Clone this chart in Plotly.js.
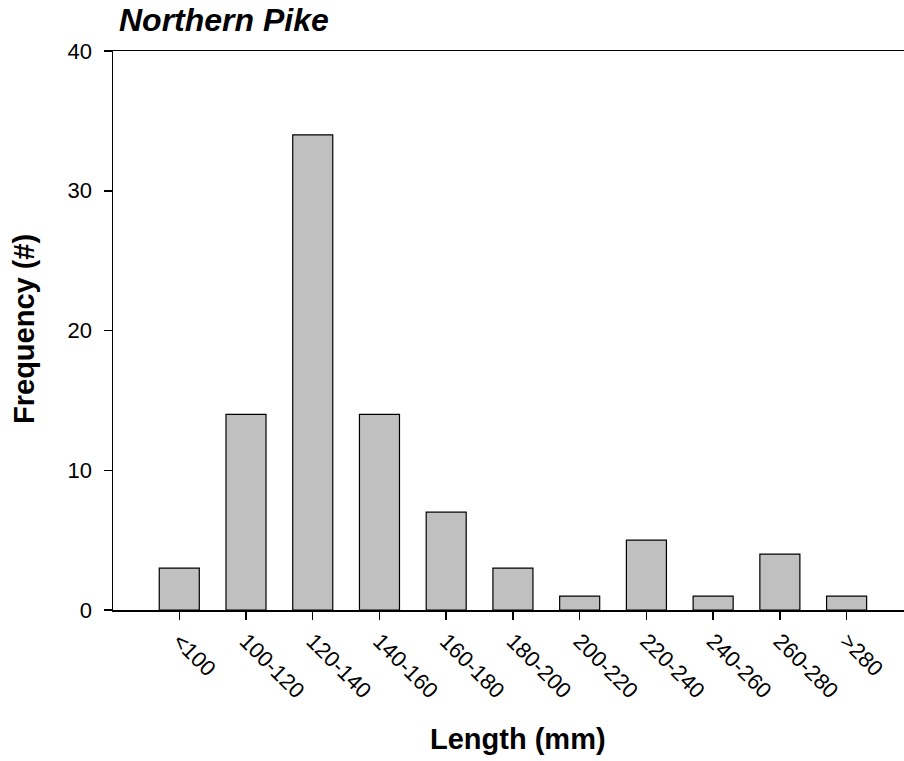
<!DOCTYPE html>
<html>
<head>
<meta charset="utf-8">
<script src="https://cdn.plot.ly/plotly-3.0.1.min.js"></script>
<style>html,body{margin:0;padding:0;background:#fff;}#chart{width:904px;height:761px;}</style>
</head>
<body>
<div id="chart"></div>
<script>
var categories = ["<100","100-120","120-140","140-160","160-180","180-200","200-220","220-240","240-260","260-280",">280"];
var frequency = [3,14,34,14,7,3,1,5,1,4,1];
var yTicks = [0,10,20,30,40];
var chartTitle = "Northern Pike";
var xTitle = "Length (mm)";
var yTitle = "Frequency (#)";

var font = "Liberation Sans, Arial, sans-serif";
var trace = {
  type: "bar",
  x: categories,
  y: frequency,
  width: 0.6,
  marker: {color: "#c0c0c0", line: {color: "#000", width: 1.2}},
  hoverinfo: "x+y"
};
var layout = {
  width: 904, height: 761,
  margin: {l: 113, r: 0, t: 51, b: 151, pad: 0},
  paper_bgcolor: "#fff", plot_bgcolor: "#fff",
  showlegend: false,
  font: {family: font, color: "#000", size: 22},
  xaxis: {
    type: "category",
    range: [-0.993, 10.86],
    showline: true, linecolor: "#000", linewidth: 1.5, mirror: true,
    ticks: "outside", ticklen: 8, tickwidth: 1.5, tickcolor: "#000",
    tickangle: 45, tickfont: {family: font, size: 22, color: "#000"},
    showgrid: false, zeroline: false
  },
  yaxis: {
    range: [0, 40], tickvals: yTicks,
    showline: true, linecolor: "#000", linewidth: 1.5, mirror: false,
    ticks: "outside", ticklen: 8, tickwidth: 1.5, tickcolor: "#000",
    ticklabelstandoff: 7,
    tickfont: {family: font, size: 22, color: "#000"},
    showgrid: false, zeroline: false
  },
  annotations: [
    {text: "<b><i>" + chartTitle + "</i></b>", xref: "paper", yref: "paper",
     x: (117 - 113) / 791, y: 1 + (51 - 20) / 559, xanchor: "left", yanchor: "middle",
     showarrow: false, font: {family: font, size: 32, color: "#000"}},
    {text: "<b>" + xTitle + "</b>", xref: "paper", yref: "paper",
     x: (518 - 113) / 791, y: -(739 - 610) / 559, xanchor: "center", yanchor: "middle",
     showarrow: false, font: {family: font, size: 29, color: "#000"}},
    {text: "<b>" + yTitle + "</b>", xref: "paper", yref: "paper", textangle: -90,
     x: -(113 - 24) / 791, y: (610 - 329) / 559, xanchor: "center", yanchor: "middle",
     showarrow: false, font: {family: font, size: 29, color: "#000"}}
  ]
};
Plotly.newPlot("chart", [trace], layout, {displayModeBar: false, staticPlot: true});
</script>
</body>
</html>
